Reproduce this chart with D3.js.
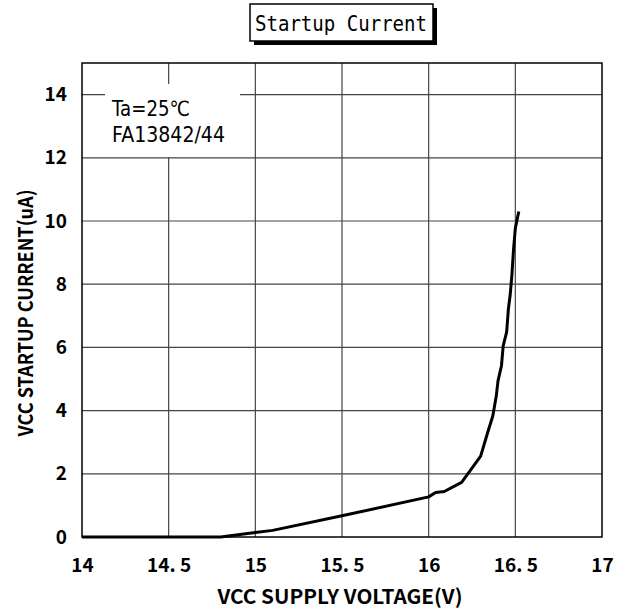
<!DOCTYPE html>
<html>
<head>
<meta charset="utf-8">
<script src="https://cdn.jsdelivr.net/npm/d3@7"></script>
<style>
  body { margin: 0; background: #fff; }
  .tick text { font-family: "Noto Sans CJK JP", "DejaVu Sans", sans-serif; font-weight: bold; font-size: 19px; fill: #000; }
</style>
</head>
<body>
<div id="plot"></div>
<script>

// curve: supply voltage (V) vs startup current (uA)
var voltage = [14.0, 14.5, 14.8, 15.0, 15.1, 15.5, 16.0, 16.04, 16.09, 16.19, 16.23, 16.30,
               16.34, 16.37, 16.39, 16.40, 16.42, 16.43, 16.45, 16.46, 16.47, 16.48, 16.49, 16.50, 16.52];
var current = [0, 0, 0, 0.14, 0.21, 0.67, 1.27, 1.41, 1.44, 1.73, 2.03, 2.56,
               3.30, 3.83, 4.46, 4.94, 5.42, 6.05, 6.49, 7.22, 7.65, 8.28, 9.13, 9.77, 10.3];

var xTicks = [14, 14.5, 15, 15.5, 16, 16.5, 17];
var yTicks = [0, 2, 4, 6, 8, 10, 12, 14];

var titleText = "Startup Current";
var noteLines = ["Ta=25\u2103", "FA13842/44"];
var xLabel = "VCC SUPPLY VOLTAGE(V)";
var yLabel = "VCC STARTUP CURRENT(uA)";

window.onload = function(){

    buildChart();

};

function buildChart(){

    var margin = {
        left:82,
        top:63,
        right:22,
        bottom:75
    };

    var W = 624, H = 612;
    var width = W - margin.left - margin.right;
    var height = H - margin.top - margin.bottom;

    var xScale = d3.scaleLinear()
        .domain([14,17])
        .range([0,width]);

    var yScale = d3.scaleLinear()
        .domain([0,15])
        .range([height,0]);

    var root = d3.select("#plot")
        .append("svg")
        .attr("width",W)
        .attr("height",H);

    var svg = root.append("g")
        .attr("transform","translate(" + margin.left + "," + margin.top + ")");

    // grid
    svg.append("g")
        .selectAll("line")
        .data(xTicks.slice(1, -1))
        .enter()
        .append("line")
        .attr("x1", d => xScale(d))
        .attr("x2", d => xScale(d))
        .attr("y1", 0)
        .attr("y2", height)
        .style("stroke", "#444")
        .style("stroke-width", 1.2);

    svg.append("g")
        .selectAll("line")
        .data(yTicks.slice(1))
        .enter()
        .append("line")
        .attr("x1", 0)
        .attr("x2", width)
        .attr("y1", d => yScale(d))
        .attr("y2", d => yScale(d))
        .style("stroke", "#444")
        .style("stroke-width", 1.2);

    // note box hides the grid behind it
    svg.append("rect")
        .attr("x", 23)
        .attr("y", 21)
        .attr("width", 135)
        .attr("height", 73)
        .style("fill", "#fff");

    var noteWidths = [78, 113];

    svg.append("g")
        .selectAll("text")
        .data(noteLines)
        .enter()
        .append("text")
        .attr("x", 30)
        .attr("y", (d, i) => 53 + i * 26)
        .attr("textLength", (d, i) => noteWidths[i])
        .attr("lengthAdjust", "spacingAndGlyphs")
        .style("font-family", "'DejaVu Sans', sans-serif")
        .style("font-size", "21px")
        .text(d => d);

    // curve
    var line = d3.line()
        .x(d => xScale(d[0]))
        .y(d => yScale(d[1]));

    svg.append("path")
        .datum(voltage.map((v, i) => [v, current[i]]))
        .attr("d", line)
        .style("fill", "none")
        .style("stroke", "#000")
        .style("stroke-width", 3)
        .style("stroke-linejoin", "round");

    // frame
    svg.append("rect")
        .attr("width", width)
        .attr("height", height)
        .style("fill", "none")
        .style("stroke", "#000")
        .style("stroke-width", 1.5);

    // axes (labels only)
    var xAxis = svg.append("g")
        .attr("transform", "translate(0," + height + ")")
        .call(d3.axisBottom(xScale)
            .tickValues(xTicks)
            .tickSize(0)
            .tickPadding(22)
            .tickFormat(d => String(d).replace(".", ". ")));
    xAxis.select(".domain").remove();

    var yAxis = svg.append("g")
        .call(d3.axisLeft(yScale)
            .tickValues(yTicks)
            .tickSize(0)
            .tickPadding(15));
    yAxis.select(".domain").remove();

    root.append("text")
        .attr("x", 340)
        .attr("y", 604)
        .attr("text-anchor", "middle")
        .attr("textLength", 245)
        .attr("lengthAdjust", "spacingAndGlyphs")
        .style("font-family", "'Noto Sans CJK JP', 'DejaVu Sans', sans-serif")
        .style("font-weight", "bold")
        .style("font-size", "20px")
        .text(xLabel);

    root.append("text")
        .attr("transform", "translate(33," + 313 + ") rotate(-90)")
        .attr("text-anchor", "middle")
        .attr("textLength", 247)
        .attr("lengthAdjust", "spacingAndGlyphs")
        .style("font-family", "'Noto Sans CJK JP', 'DejaVu Sans', sans-serif")
        .style("font-weight", "bold")
        .style("font-size", "20px")
        .text(yLabel);

    // title box with shadow
    root.append("rect")
        .attr("x", 254)
        .attr("y", 8)
        .attr("width", 183)
        .attr("height", 37)
        .style("fill", "#000");

    root.append("rect")
        .attr("x", 250)
        .attr("y", 4)
        .attr("width", 183)
        .attr("height", 37)
        .style("fill", "#fff")
        .style("stroke", "#000")
        .style("stroke-width", 1.5);

    root.append("text")
        .attr("x", 341)
        .attr("y", 31)
        .attr("text-anchor", "middle")
        .attr("textLength", 172)
        .attr("lengthAdjust", "spacingAndGlyphs")
        .style("font-family", "'DejaVu Sans Mono', monospace")
        .style("font-size", "21px")
        .text(titleText);

}
</script>
</body>
</html>
